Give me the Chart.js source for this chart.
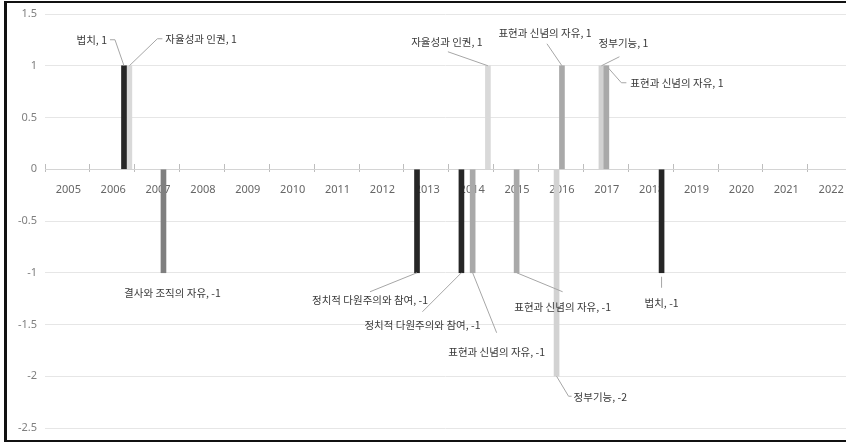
<!DOCTYPE html>
<html lang="ko">
<head>
<meta charset="utf-8">
<title>지표 변화</title>
<script src="https://cdn.jsdelivr.net/npm/chart.js@4/dist/chart.umd.min.js"></script>
<style>
  html, body { margin: 0; padding: 0; background: #fff; overflow: hidden; }
  #wrap { position: relative; width: 846px; height: 442px; overflow: hidden; }
  #frame {
    position: absolute; left: 4px; top: 1px; right: -10px; bottom: 0;
    border: 2px solid #111; border-left-width: 3px; pointer-events: none;
  }
</style>
</head>
<body>
<div id="wrap">
  <canvas id="chart" width="846" height="442"></canvas>
  <div id="frame"></div>
</div>
<script>
// Year labels along the horizontal axis
const yearLabels = ['2005', '2006', '2007', '2008', '2009', '2010', '2011', '2012', '2013',
                    '2014', '2015', '2016', '2017', '2018', '2019', '2020', '2021', '2022'];

// Value axis ticks
const valueTicks = [1.5, 1, 0.5, 0, -0.5, -1, -1.5, -2, -2.5];

// Series names
const seriesNames = ['법치', '자율성과 인권', '결사와 조직의 자유', '정치적 다원주의와 참여',
                     '표현과 신념의 자유', '정부기능'];

// Change events: date (fractional year) and score change
const lawDates = [2006.76, 2018.74];
const lawValues = [1, -1];
const autonomyDates = [2006.88, 2014.87];
const autonomyValues = [1, 1];
const associationDates = [2007.64];
const associationValues = [-1];
const pluralismDates = [2013.29, 2014.28];
const pluralismValues = [-1, -1];
const expressionDates = [2014.53, 2015.51, 2016.52, 2017.51];
const expressionValues = [-1, -1, 1, 1];
const governmentDates = [2016.40, 2017.40];
const governmentValues = [-2, 1];

const seriesDates = [lawDates, autonomyDates, associationDates, pluralismDates, expressionDates, governmentDates];
const seriesValues = [lawValues, autonomyValues, associationValues, pluralismValues, expressionValues, governmentValues];
const seriesColors = ['#262626', '#d9d9d9', '#7f7f7f', '#262626', '#a9a9a9', '#d2d2d2'];

// Data label placement relative to the bar end: leader path, text anchor, alignment
const labelLayout = [
  [ { line: [[0, 0], [-9, -26], [-14, -26]], text: [-17, -26], align: 'right' },
    { line: [[0, 4], [0, 15]], text: [0, 30], align: 'center' } ],
  [ { line: [[0, 0], [28, -27], [33, -27]], text: [36, -27], align: 'left' },
    { line: [[0, 0], [-40, -14]], text: [-41, -24], align: 'center' } ],
  [ { line: null, text: [9, 20], align: 'center' } ],
  [ { line: [[0, 0], [-47, 19]], text: [-47, 27], align: 'center' },
    { line: [[0, 0], [-39, 39]], text: [-39, 52], align: 'center' } ],
  [ { line: [[0, 0], [24, 60]], text: [24, 79], align: 'center' },
    { line: [[0, 0], [46, 19]], text: [46, 34], align: 'center' },
    { line: [[0, 0], [-15, -22]], text: [-17, -33], align: 'center' },
    { line: [[0, 0], [15, 17], [20, 17]], text: [24, 17], align: 'left' } ],
  [ { line: [[0, 0], [12, 20], [15, 20]], text: [17, 21], align: 'left' },
    { line: [[0, 0], [18, -9]], text: [22, -23], align: 'center' } ]
];

const firstYear = Number(yearLabels[0]);
const axisMax = 2022.85;

const datasets = seriesNames.map((name, i) => ({
  label: name,
  data: seriesDates[i].map((d, j) => ({ x: d, y: seriesValues[i][j] })),
  backgroundColor: seriesColors[i],
  borderWidth: 0,
  barThickness: 5
}));

const leaderLabels = {
  id: 'leaderLabels',
  afterDatasetsDraw(chart) {
    const ctx = chart.ctx;
    ctx.save();
    ctx.font = '10.5px "Noto Sans CJK KR"';
    ctx.textBaseline = 'middle';
    chart.data.datasets.forEach((ds, i) => {
      const meta = chart.getDatasetMeta(i);
      meta.data.forEach((bar, j) => {
        const spec = labelLayout[i][j];
        const px = bar.x, py = bar.y;
        if (spec.line) {
          ctx.beginPath();
          spec.line.forEach(([dx, dy], k) => {
            if (k === 0) ctx.moveTo(px + dx, py + dy); else ctx.lineTo(px + dx, py + dy);
          });
          ctx.strokeStyle = '#a6a6a6';
          ctx.lineWidth = 1;
          ctx.stroke();
        }
        ctx.fillStyle = '#3a3a3a';
        ctx.textAlign = spec.align;
        ctx.fillText(ds.label + ', ' + ds.data[j].y, px + spec.text[0], py + spec.text[1]);
      });
    });
    ctx.restore();
  }
};

const noSidePadding = s => { s.paddingLeft = 0; s.paddingRight = 0; };

new Chart(document.getElementById('chart'), {
  type: 'bar',
  data: { datasets },
  options: {
    responsive: false,
    animation: false,
    events: [],
    layout: { padding: { top: 14, bottom: 14, left: 0, right: 0 } },
    plugins: { legend: { display: false }, tooltip: { enabled: false } },
    scales: {
      // tick marks between the years, just over the zero line
      x: {
        type: 'linear',
        stacked: true,
        offset: false,
        min: firstYear,
        max: axisMax,
        position: { y: 0.048 },
        afterBuildTicks: s => { s.ticks = yearLabels.map((_, i) => ({ value: firstYear + i })); },
        afterFit: noSidePadding,
        ticks: { display: false },
        grid: { offset: false, drawOnChartArea: false, drawTicks: true, tickLength: 8, tickColor: '#bdbdbd', tickWidth: 1 },
        border: { display: false }
      },
      // year labels centred in each year
      xl: {
        type: 'linear',
        axis: 'x',
        offset: false,
        min: firstYear,
        max: axisMax,
        position: { y: 0 },
        afterBuildTicks: s => { s.ticks = yearLabels.map((_, i) => ({ value: firstYear + i + 0.52 })); },
        afterFit: noSidePadding,
        ticks: {
          autoSkip: false,
          maxRotation: 0,
          padding: 14,
          color: '#666666',
          font: { family: 'Noto Sans', size: 11 },
          callback: (v, i) => yearLabels[i]
        },
        grid: { offset: false, display: false, drawTicks: false },
        border: { display: false }
      },
      y: {
        min: valueTicks[valueTicks.length - 1],
        max: valueTicks[0],
        afterBuildTicks: s => { s.ticks = valueTicks.map(v => ({ value: v })); },
        afterFit: s => { s.width = 45; s.paddingTop = 0; s.paddingBottom = 0; },
        ticks: {
          padding: 8,
          color: '#7f7f7f',
          font: { family: 'Noto Sans', size: 11 },
          callback: v => String(v)
        },
        grid: {
          drawTicks: false,
          color: ctx => (ctx.tick && ctx.tick.value === 0 ? '#d4d4d4' : '#e6e6e6'),
          lineWidth: 1
        },
        border: { display: false }
      }
    }
  },
  plugins: [leaderLabels]
});
</script>
</body>
</html>
